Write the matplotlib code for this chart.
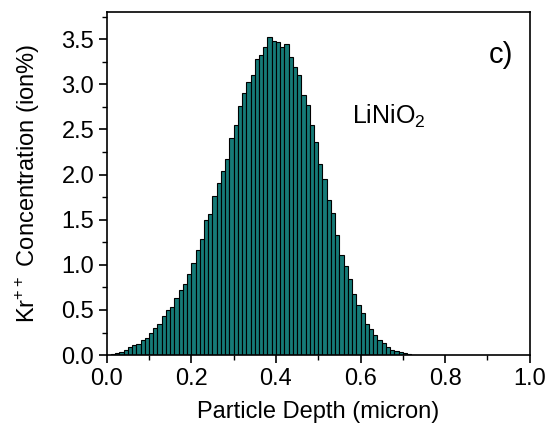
import numpy as np
import matplotlib
matplotlib.use("Agg")
import matplotlib.pyplot as plt
from matplotlib.ticker import MultipleLocator

# data: bin left edges (micron) and concentration (ion%)
bin_width = 0.01
conc = [0.005, 0.01, 0.02, 0.035, 0.055, 0.09, 0.11, 0.12, 0.165, 0.19,
        0.24, 0.295, 0.35, 0.43, 0.50, 0.535, 0.63, 0.72, 0.79, 0.90,
        1.02, 1.16, 1.29, 1.50, 1.56, 1.76, 1.91, 2.04, 2.17, 2.40,
        2.55, 2.76, 2.90, 3.03, 3.10, 3.28, 3.32, 3.41, 3.52, 3.48,
        3.47, 3.41, 3.45, 3.30, 3.19, 3.10, 2.88, 2.77, 2.55, 2.36,
        2.12, 1.95, 1.72, 1.57, 1.33, 1.11, 0.99, 0.84, 0.675, 0.55,
        0.47, 0.35, 0.29, 0.22, 0.17, 0.13, 0.09, 0.06, 0.045, 0.03,
        0.02, 0.01, 0.005]
depth = np.arange(len(conc)) * bin_width

plt.rcParams['font.family'] = ['Liberation Sans', 'DejaVu Sans']
plt.rcParams['mathtext.fontset'] = 'custom'
plt.rcParams['mathtext.rm'] = 'Liberation Sans'

fig = plt.figure(figsize=(5.53, 4.32), dpi=100)
ax = fig.add_axes([0.193, 0.178, 0.765, 0.794])

ax.bar(depth, conc, width=bin_width, align='edge',
       color='#167a77', edgecolor='black', linewidth=0.8)

ax.set_xlim(0, 1.0)
ax.set_ylim(0, 3.8)
ax.xaxis.set_major_locator(MultipleLocator(0.2))
ax.xaxis.set_minor_locator(MultipleLocator(0.1))
ax.yaxis.set_major_locator(MultipleLocator(0.5))
ax.yaxis.set_minor_locator(MultipleLocator(0.25))
ax.tick_params(which='major', direction='out', length=6, width=1.2, labelsize=17, pad=3)
ax.tick_params(which='minor', direction='out', length=3.5, width=1.0)
ax.tick_params(top=False, right=False)
for s in ax.spines.values():
    s.set_linewidth(1.2)

ax.set_xlabel("Particle Depth (micron)", fontsize=17, labelpad=8)
ax.set_ylabel("Kr$^{\\mathrm{++}}$ Concentration (ion%)", fontsize=17, labelpad=14)

ax.text(0.58, 2.566, "LiNiO$_{\\mathrm{2}}$", fontsize=18, va='baseline', ha='left')
ax.text(0.931, 3.33, "c)", fontsize=21, va='center', ha='center')

fig.savefig("out.png", dpi=100)
